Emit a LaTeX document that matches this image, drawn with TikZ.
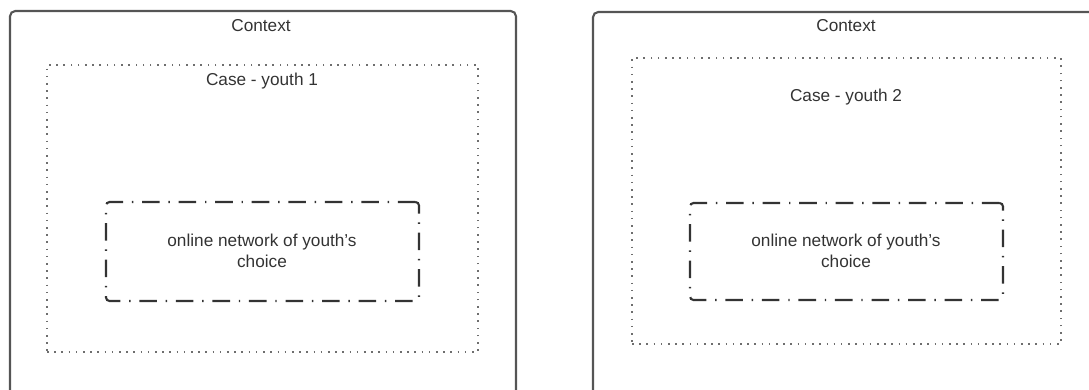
\documentclass[tikz,border=0pt]{standalone}
\usepackage{fontspec}
\setmainfont{Liberation Sans}
\definecolor{ink}{HTML}{333333}
\definecolor{frame}{HTML}{555555}
\begin{document}
\begin{tikzpicture}[x=0.02cm,y=-0.02cm,
  every node/.style={inner sep=0pt,outer sep=0pt},
  ctxbox/.style={draw=frame,line width=1.2pt,rounded corners=3pt},
  casebox/.style={draw=frame!85,line width=0.9pt,dash pattern=on 0.9pt off 3.2pt},
  netbox/.style={draw=ink,line width=1.2pt,rounded corners=2pt,dash pattern=on 10pt off 5pt on 0.8pt off 5pt},
  lbl/.style={text=ink,font=\fontsize{9.8}{12}\selectfont,align=center}]
\useasboundingbox (0,0) rectangle (1089,389);
\clip (0,0) rectangle (1089,389);
% left
\node[ctxbox,minimum width=506*0.02cm,minimum height=386*0.02cm] (c1) at (263,204) {};
\node[casebox,minimum width=431*0.02cm,minimum height=287*0.02cm] (k1) at (262.5,208.5) {};
\node[netbox,minimum width=313*0.02cm,minimum height=99*0.02cm] (n1) at (262.5,251.5) {};
\node[lbl] (c1t) at (261,26) {Context};
\node[lbl] (k1t) at (262,81) {Case - youth 1};
\node[lbl] (n1t) at (262,251) {online network of youth's\\choice};
% right
\node[ctxbox,minimum width=509*0.02cm,minimum height=385*0.02cm] (c2) at (847.5,204.5) {};
\node[casebox,minimum width=429*0.02cm,minimum height=286*0.02cm] (k2) at (846.5,201) {};
\node[netbox,minimum width=313*0.02cm,minimum height=97*0.02cm] (n2) at (846.5,251.5) {};
\node[lbl] (c2t) at (846,26) {Context};
\node[lbl] (k2t) at (846,97) {Case - youth 2};
\node[lbl] (n2t) at (846,251) {online network of youth's\\choice};
\end{tikzpicture}
\end{document}
